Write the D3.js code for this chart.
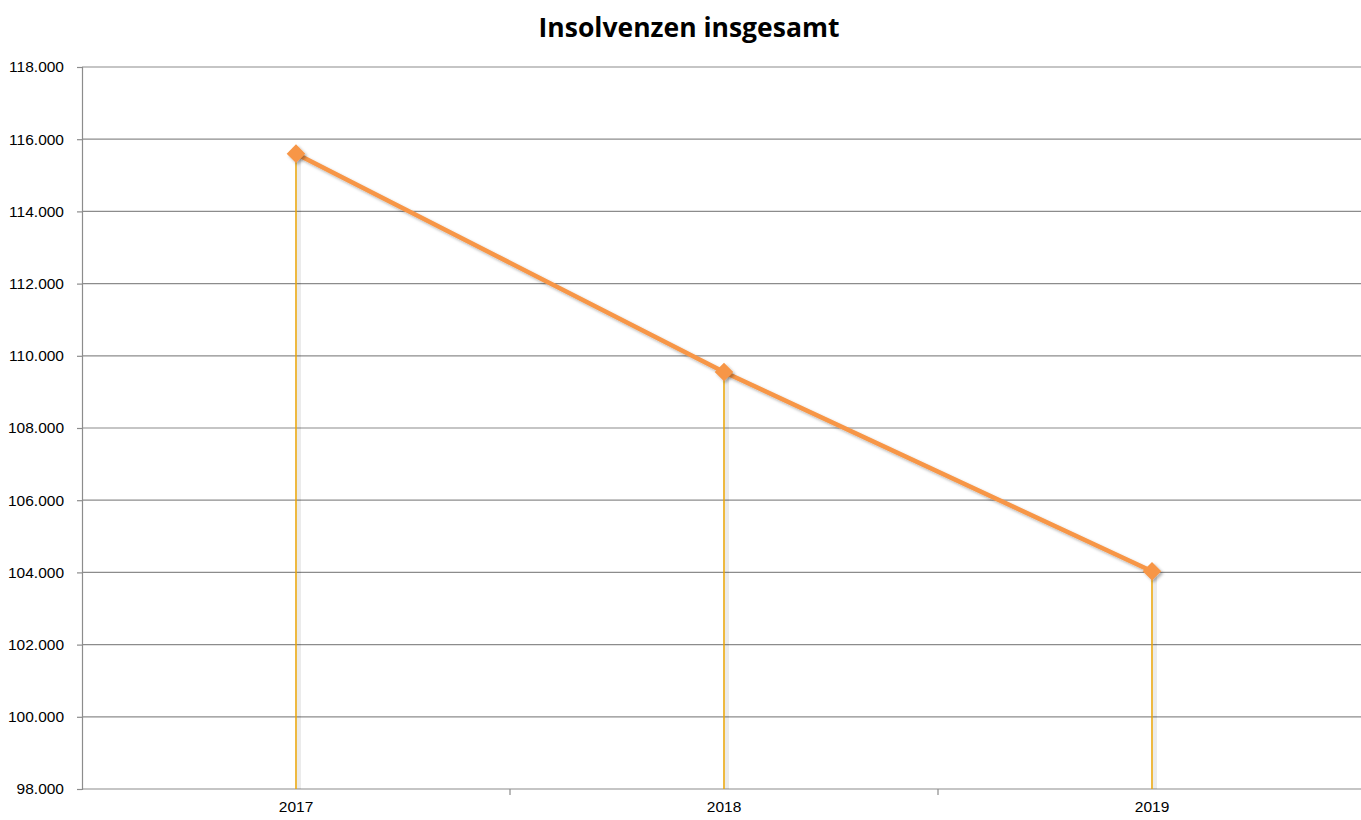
<!DOCTYPE html>
<html>
<head>
<meta charset="utf-8">
<script src="https://cdn.jsdelivr.net/npm/d3@7"></script>
<style>
body { margin:0; background:#fff; }
svg { display:block; font-family: "Open Sans", "Noto Sans", sans-serif; }
</style>
</head>
<body>
<svg id="chart" width="1361" height="820"></svg>
<script>
// data
var years = ["2017", "2018", "2019"];
var insolvencies = [115600, 109550, 104030];
var yTicks = [98000, 100000, 102000, 104000, 106000, 108000, 110000, 112000, 114000, 116000, 118000];

var svg = d3.select("#chart");
var margin = {left: 82, top: 67, right: -5, bottom: 31};
var width = 1361 - margin.left - margin.right;
var height = 820 - margin.top - margin.bottom;

var defs = svg.append("defs");
var f = defs.append("filter").attr("id", "shadow")
  .attr("x", "-50%").attr("y", "-50%").attr("width", "200%").attr("height", "200%");
f.append("feDropShadow").attr("dx", 2).attr("dy", 2).attr("stdDeviation", 1.5)
  .attr("flood-color", "#000").attr("flood-opacity", 0.3);

var x = d3.scaleBand().domain(years).range([0, width]);
var y = d3.scaleLinear().domain([98000, 118000]).range([height, 0]);

var g = svg.append("g").attr("transform", "translate(" + margin.left + "," + margin.top + ")");

// gridlines
g.append("g").selectAll("line").data(yTicks).enter().append("line")
  .attr("x1", 0).attr("x2", width)
  .attr("y1", d => y(d)).attr("y2", d => y(d))
  .attr("stroke", "#8c8c8c").attr("stroke-width", 1.2);

// y axis
var yAxis = g.append("g")
  .call(d3.axisLeft(y).tickValues(yTicks).tickSize(5).tickPadding(13)
    .tickFormat(d => d3.format(",")(d).replace(/,/g, ".")));
yAxis.select(".domain").attr("stroke", "#8c8c8c").attr("stroke-width", 1.2);
yAxis.selectAll(".tick line").attr("stroke", "#8c8c8c").attr("stroke-width", 1.2);
yAxis.selectAll("text").attr("font-size", 15.5).attr("fill", "#000");

// x axis
var xAxis = g.append("g").attr("transform", "translate(0," + height + ")")
  .call(d3.axisBottom(x).tickSize(0).tickPadding(12));
xAxis.select(".domain").remove();
xAxis.selectAll("text").attr("font-size", 15.5).attr("fill", "#000");
// category separators
g.append("g").selectAll("line").data(years.slice(1)).enter().append("line")
  .attr("x1", d => x(d)).attr("x2", d => x(d))
  .attr("y1", height).attr("y2", height + 6)
  .attr("stroke", "#8c8c8c").attr("stroke-width", 1.2);

var cx = d => x(d) + x.bandwidth() / 2;

// drop lines with a soft shadow
g.append("g").selectAll("line").data(years).enter().append("line")
  .attr("x1", d => cx(d) + 3).attr("x2", d => cx(d) + 3)
  .attr("y1", (d, i) => y(insolvencies[i])).attr("y2", height)
  .attr("stroke", "#000").attr("stroke-opacity", 0.08).attr("stroke-width", 4);
g.append("g").selectAll("line").data(years).enter().append("line")
  .attr("x1", d => cx(d)).attr("x2", d => cx(d))
  .attr("y1", (d, i) => y(insolvencies[i])).attr("y2", height)
  .attr("stroke", "#e8a202").attr("stroke-width", 1.5);

// line
var line = d3.line().x((d, i) => cx(years[i])).y(d => y(d));
g.append("path").datum(insolvencies)
  .attr("d", line).attr("fill", "none")
  .attr("stroke", "#f79646").attr("stroke-width", 4.5)
  .attr("filter", "url(#shadow)");

// markers
g.append("g").selectAll("path").data(insolvencies).enter().append("path")
  .attr("d", d3.symbol().type(d3.symbolDiamond2).size(220))
  .attr("transform", (d, i) => "translate(" + cx(years[i]) + "," + y(d) + ")")
  .attr("fill", "#f79646")
  .attr("filter", "url(#shadow)");

// title
svg.append("text").attr("x", 689).attr("y", 37)
  .attr("text-anchor", "middle").attr("font-size", 26.5).attr("font-weight", "bold")
  .text("Insolvenzen insgesamt");
</script>
</body>
</html>
